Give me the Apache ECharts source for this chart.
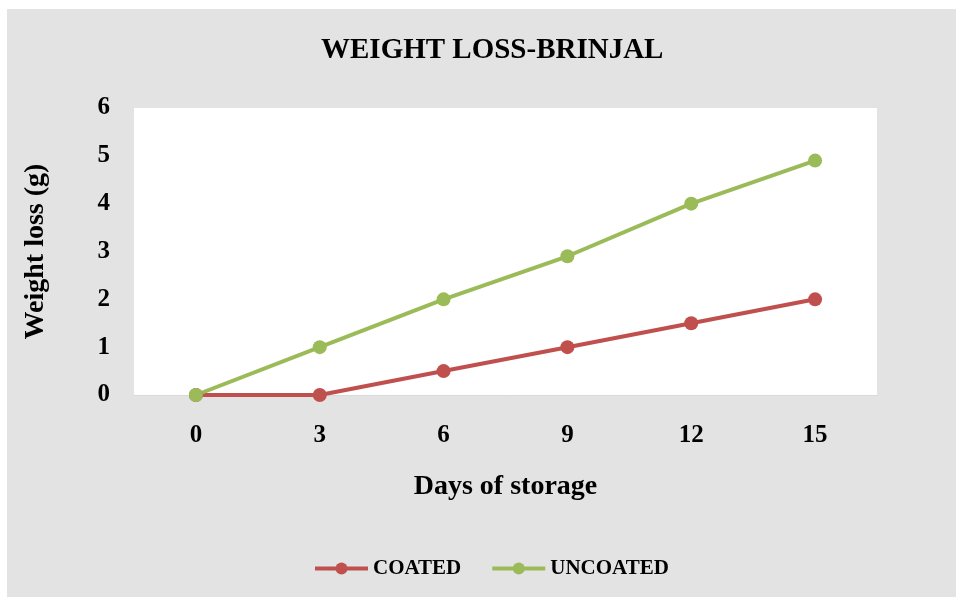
<!DOCTYPE html>
<html>
<head>
<meta charset="utf-8">
<script src="https://cdn.jsdelivr.net/npm/echarts@6/dist/echarts.min.js"></script>
<style>
  html, body { margin: 0; padding: 0; background: #ffffff; }
  #chart { width: 956px; height: 597px; }
</style>
</head>
<body>
<div id="chart"></div>
<script>
// Storage days (x categories)
const days = ['0', '3', '6', '9', '12', '15'];
// Weight loss in grams
const coated = [0, 0, 0.5, 1, 1.5, 2];
const uncoated = [0, 1, 2, 2.9, 4, 4.9];

const FONT = '"Liberation Serif", "Times New Roman", serif';

const chart = echarts.init(document.getElementById('chart'), null, { renderer: 'canvas' });

chart.setOption({
  backgroundColor: '#ffffff',
  animation: false,
  graphic: [{
    type: 'rect',
    left: 7, top: 9,
    shape: { width: 949, height: 588 },
    style: { fill: '#e3e3e3' },
    z: -10, silent: true
  }, {
    type: 'rect',
    left: 134, top: 108,
    shape: { width: 743, height: 287 },
    style: { fill: '#ffffff' },
    z: -9, silent: true
  }],
  title: {
    text: 'WEIGHT LOSS-BRINJAL',
    left: 316,
    top: 31,
    textStyle: { fontFamily: FONT, fontWeight: 'bold', fontSize: 29, color: '#000' }
  },
  legend: {
    bottom: 18,
    left: 313,
    padding: 0,
    itemWidth: 53,
    itemHeight: 15,
    itemGap: 29,
    lineStyle: { width: 4 },
    textStyle: { fontFamily: FONT, fontWeight: 'bold', fontSize: 21, color: '#000' },
    data: ['COATED', 'UNCOATED']
  },
  grid: { left: 134, top: 108, right: 79, bottom: 202, containLabel: false },
  xAxis: {
    type: 'category',
    data: days,
    boundaryGap: true,
    name: 'Days of storage',
    nameLocation: 'middle',
    nameGap: 78,
    nameTextStyle: { fontFamily: FONT, fontWeight: 'bold', fontSize: 28, color: '#000' },
    axisLine: { lineStyle: { color: '#d9d9d9', width: 1 } },
    axisTick: { show: false },
    axisLabel: { margin: 28, fontFamily: FONT, fontWeight: 'bold', fontSize: 25, color: '#000' },
    splitLine: { show: false }
  },
  yAxis: {
    type: 'value',
    min: 0, max: 6, interval: 1,
    name: 'Weight loss (g)',
    nameLocation: 'middle',
    nameGap: 84,
    nameRotate: 90,
    nameTextStyle: { fontFamily: FONT, fontWeight: 'bold', fontSize: 28, color: '#000' },
    axisLine: { show: false },
    axisTick: { show: false },
    axisLabel: { margin: 24, fontFamily: FONT, fontWeight: 'bold', fontSize: 25, color: '#000' },
    splitLine: { show: false }
  },
  series: [{
    name: 'COATED',
    type: 'line',
    data: coated,
    color: '#c0504d',
    symbol: 'circle',
    symbolSize: 14,
    lineStyle: { width: 4, color: '#c0504d' },
    itemStyle: { color: '#c0504d' }
  }, {
    name: 'UNCOATED',
    type: 'line',
    data: uncoated,
    color: '#9bbb59',
    symbol: 'circle',
    symbolSize: 14,
    lineStyle: { width: 4, color: '#9bbb59' },
    itemStyle: { color: '#9bbb59' }
  }]
});
</script>
</body>
</html>
